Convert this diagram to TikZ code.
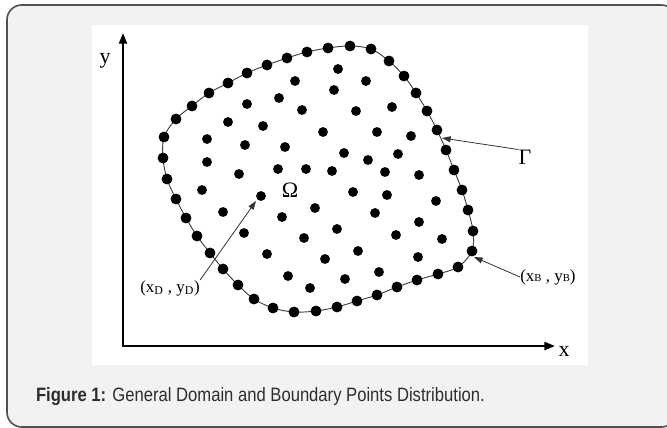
\documentclass[tikz,border=0pt]{standalone}
\usepackage{fontspec}
\setmainfont{Liberation Serif}
\setsansfont{Liberation Sans}
\usetikzlibrary{arrows.meta}
\definecolor{panelgray}{RGB}{241,242,244}
\definecolor{framegray}{RGB}{80,80,80}
\definecolor{captext}{RGB}{45,45,45}

\begin{document}
\begin{tikzpicture}[
  x=0.75pt, y=-0.75pt,
  font=\fontsize{12.75}{15}\selectfont,
  axis/.style={line width=1.6pt, {Triangle[length=8pt,width=6pt]}-{Triangle[length=8pt,width=6pt]}},
  pointer/.style={line width=0.6pt, black!80, -{Triangle[length=6.5pt,width=4.5pt]}},
  bdry/.style={line width=0.7pt, black!75},
  ipt/.style={circle, fill=black, inner sep=0pt, minimum size=7.4pt},
  lbl/.style={inner sep=0pt},
  biglbl/.style={inner sep=0pt, font=\fontsize{16.5}{18}\selectfont}
]
\useasboundingbox (0,0) rectangle (667,428);

% Panel and figure area
\draw[framegray, line width=1.2pt, fill=panelgray, rounded corners=11pt] (7,5) rectangle (676,427);
\fill[white] (92,25) rectangle (588,365);

% Axes
\coordinate (org) at (123,346);
\coordinate (ytip) at (123,33);
\coordinate (xtip) at (555,346);
\draw[axis] (ytip) -- (org) -- (xtip);
\node[biglbl] (ylab) at (105,61) {y};
\node[biglbl] (xlab) at (564,351) {x};

% Boundary Gamma with boundary points
\draw[bdry] plot[smooth cycle, tension=0.55, mark=*, mark size=3.7pt, mark options={black, fill=black}] coordinates {
  (350,46) (371,49) (389,61) (404,76) (416,93) (427,111) (437,130) (446,150)
  (454,170) (462,190) (468,210) (473,231) (472,251) (458,267) (438,274) (417,280)
  (397,287) (377,295) (357,301) (337,307) (316,311) (294,312) (273,308) (254,299)
  (238,285) (223,269) (210,253) (197,236) (186,218) (176,199) (167,179) (163,158)
  (164,137) (176,119) (192,106) (209,93) (228,83) (247,73) (267,65) (287,58)
  (307,52) (328,48)};

% Interior points of Omega
\foreach \x/\y [count=\k] in {338/69, 295/81, 366/81, 334/90, 279/98, 247/104, 302/110,
  356/111, 392/107, 228/122, 263/126, 323/132, 377/132, 411/136, 207/139, 245/145,
  285/147, 344/153, 368/160, 398/154, 207/162, 239/174, 278/169, 306/169, 332/171,
  385/172, 419/175, 202/190, 261/196, 353/192, 387/195, 436/201, 315/208, 223/212,
  282/217, 375/213, 244/233, 304/238, 337/229, 396/235, 419/222, 442/239, 267/254,
  325/259, 358/251, 418/257, 288/276, 310/288, 345/279, 379/272}
  \node[ipt] (in\k) at (\x,\y) {};

% Labels and pointers
\node[biglbl] (gam) at (525,157) {Γ};
\node[biglbl] (omg) at (290,190) {Ω};
\node[lbl, anchor=west] (xd) at (140,288) {(x\textsubscript{D} , y\textsubscript{D})};
\node[lbl, anchor=west] (xb) at (520,277) {(x{\footnotesize B} , y{\footnotesize B})};

\coordinate (gtip) at (442,138);
\coordinate (btip) at (474,257);
\coordinate (dtip) at (256,201);

\draw[pointer] (gam.north west) -- (gtip);
\draw[pointer] (xb.west) -- (btip);
\draw[pointer] (xd.north east) -- (dtip);

% Caption
\node[anchor=west, xscale=0.86, font=\sffamily\fontsize{14.5}{17}\selectfont, text=captext] (cap) at (32,397)
  {\textbf{Figure 1:} General Domain and Boundary Points Distribution.};

\end{tikzpicture}
\end{document}
